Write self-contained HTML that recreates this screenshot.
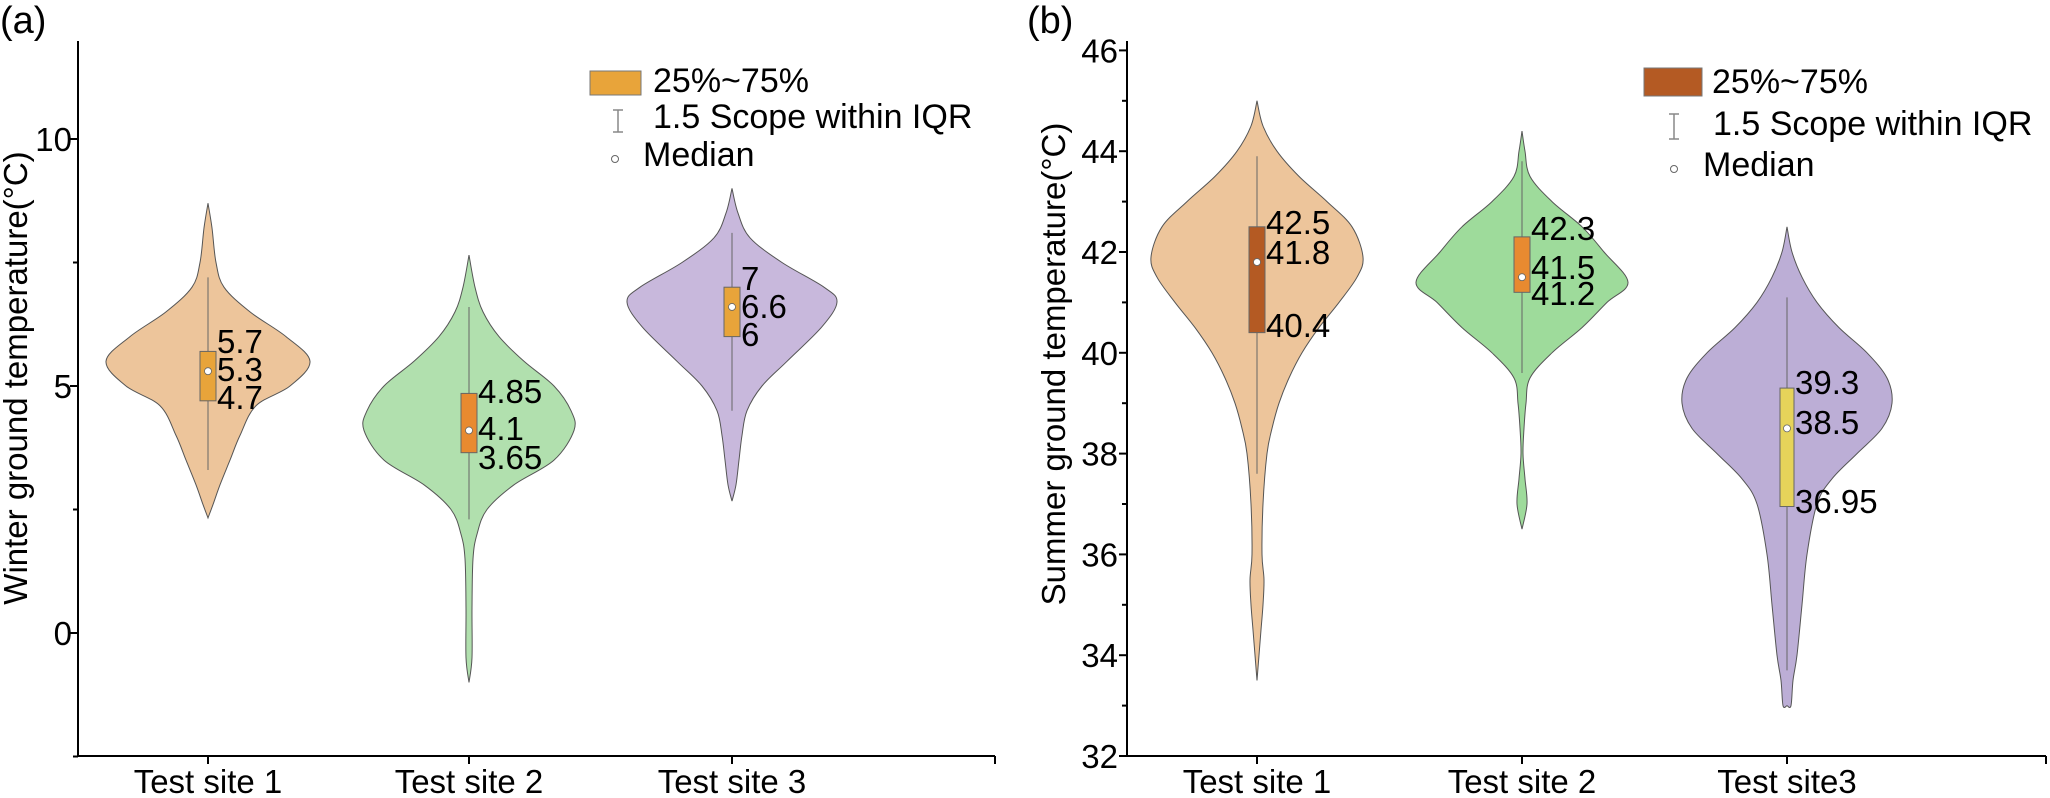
<!DOCTYPE html>
<html><head><meta charset="utf-8"><style>
html,body{margin:0;padding:0;background:#fff;}
svg{display:block;font-family:"Liberation Sans",Arial,sans-serif;}
</style></head><body>
<svg id="s" width="2050" height="798" viewBox="0 0 2050 798" xmlns="http://www.w3.org/2000/svg">
<rect width="2050" height="798" fill="#fff"/>
<g id="g"></g>
<text x="0" y="33" font-size="38">(a)</text>
<text x="1027" y="33" font-size="38">(b)</text>
<g stroke="#000" stroke-width="2" fill="none">
<path d="M78,41 V756 H995"/>
<path d="M1127,41 V756 H2046"/>
</g>
<g font-size="33" text-anchor="end">
<text x="72" y="151">10</text>
<text x="72" y="398">5</text>
<text x="72" y="645">0</text>
</g>
<g font-size="33" text-anchor="middle">
<text x="208" y="793">Test site 1</text>
<text x="469" y="793">Test site 2</text>
<text x="732" y="793">Test site 3</text>
<text x="1257" y="793">Test site 1</text>
<text x="1522" y="793">Test site 2</text>
<text x="1787" y="793">Test site3</text>
</g>
<text transform="translate(27,378) rotate(-90)" font-size="33" text-anchor="middle">Winter ground temperature(°C)</text>
<text transform="translate(1065,364) rotate(-90)" font-size="33" text-anchor="middle">Summer ground temperature(°C)</text>
<!-- legend a -->
<rect x="590" y="71" width="51" height="24" fill="#e8a43a" stroke="#777" stroke-width="1"/>
<text x="653" y="92" font-size="34">25%~75%</text>
<path d="M618,110 V132 M613,110 H623 M613,132 H623" stroke="#888" stroke-width="1.5" fill="none"/>
<text x="653" y="128" font-size="34">1.5 Scope within IQR</text>
<circle cx="615" cy="159" r="3.5" fill="#fff" stroke="#666" stroke-width="1"/>
<text x="643" y="166" font-size="34">Median</text>
<!-- legend b -->
<rect x="1644" y="68" width="58" height="28" fill="#b45a23" stroke="#777" stroke-width="1"/>
<text x="1712" y="93" font-size="34">25%~75%</text>
<path d="M1674,114 V139 M1669,114 H1679 M1669,139 H1679" stroke="#888" stroke-width="1.5" fill="none"/>
<text x="1713" y="135" font-size="34">1.5 Scope within IQR</text>
<circle cx="1674" cy="169" r="3.5" fill="#fff" stroke="#666" stroke-width="1"/>
<text x="1703" y="176" font-size="34">Median</text>
</svg>
<script>
var NS="http://www.w3.org/2000/svg",G=document.getElementById('g');
function el(t,a,txt){var e=document.createElementNS(NS,t);for(var k in a)e.setAttribute(k,a[k]);if(txt!==undefined)e.textContent=txt;G.appendChild(e);return e;}
var ya=function(v){return 633-v*49.4;};
var yb=function(v){return 756-(v-32)*50.4;};
[10,5,0].forEach(function(v){el('path',{d:'M70,'+ya(v)+'H78',stroke:'#000','stroke-width':2});});
[7.5,2.5,-2.5].forEach(function(v){el('path',{d:'M73,'+ya(v)+'H78',stroke:'#000','stroke-width':2});});
for(var v=32;v<=46;v++){var maj=v%2==0;el('path',{d:'M'+(maj?1119:1122)+','+yb(v)+'H1127',stroke:'#000','stroke-width':2});
 if(maj)el('text',{x:1118,y:yb(v)+12,'font-size':33,'text-anchor':'end'},String(v));}
[208,469,732,995].forEach(function(x){el('path',{d:'M'+x+',756V764',stroke:'#000','stroke-width':2});});
[1257,1522,1787,2046].forEach(function(x){el('path',{d:'M'+x+',756V764',stroke:'#000','stroke-width':2});});
function smooth(pts){var d='M'+pts[0][0]+','+pts[0][1];
 for(var i=0;i<pts.length-1;i++){var p0=pts[Math.max(0,i-1)],p1=pts[i],p2=pts[i+1],p3=pts[Math.min(pts.length-1,i+2)];
 d+=' C'+(p1[0]+(p2[0]-p0[0])/6)+','+(p1[1]+(p2[1]-p0[1])/6)+' '+(p2[0]-(p3[0]-p1[0])/6)+','+(p2[1]-(p3[1]-p1[1])/6)+' '+p2[0]+','+p2[1];}
 return d;}
function violin(cx,Y,prof,fill,wl,wh,bl,bh,med,bfill,bw,labs){
 var R=prof.map(function(p){return [cx+p[1],Y(p[0])];});
 var L=prof.slice().reverse().map(function(p){return [cx-p[1],Y(p[0])];});
 var d=smooth(R)+' L'+L[0][0]+','+L[0][1]+' '+smooth(L).slice(1)+'Z';
 el('path',{d:d,fill:fill,stroke:'#555','stroke-width':1});
 el('path',{d:'M'+cx+','+Y(wh)+'V'+Y(wl),stroke:'#666','stroke-width':1});
 el('rect',{x:cx-bw/2,y:Y(bh),width:bw,height:Y(bl)-Y(bh),fill:bfill,stroke:'#666','stroke-width':1});
 el('circle',{cx:cx,cy:Y(med),r:3.5,fill:'#fff',stroke:'#666','stroke-width':0.8});
 labs.forEach(function(l){el('text',{x:cx+bw/2+1,y:l[1],'font-size':33},l[0]);});
}
violin(208,ya,[[8.7,0],[8.2,4],[7.5,8],[7,16],[6.5,42],[6,78],[5.5,102],[5,82],[4.6,48],[4,32],[3.5,22],[3,12],[2.6,5],[2.33,0]],'#edc59b',3.3,7.2,4.7,5.7,5.3,'#e8a43a',16,[['5.7',353],['5.3',381],['4.7',409]]);
violin(469,ya,[[7.65,0],[7,6],[6.5,14],[6,30],[5.5,55],[5,85],[4.5,102],[4.1,105],[3.5,85],[3,45],[2.5,18],[2,8],[1.5,4],[0.5,3],[-0.5,3],[-1.0,0]],'#b1e0ae',2.3,6.6,3.65,4.85,4.1,'#e88a30',16,[['4.85',403],['4.1',440],['3.65',469]]);
violin(732,ya,[[9.0,0],[8.5,6],[8,18],[7.5,50],[7,92],[6.7,105],[6.2,90],[5.5,55],[5,30],[4.5,15],[4,10],[3.5,7],[3,4],[2.67,0]],'#c8b8dc',4.5,8.1,6,7,6.6,'#e8a43a',16,[['7',290],['6.6',318],['6',346]]);
violin(1257,yb,[[45,0],[44.5,6],[44,20],[43.5,42],[43,70],[42.5,95],[41.9,106],[41.5,100],[41,82],[40.5,62],[40,45],[39.5,32],[39,22],[38.5,15],[38,10],[37,6],[36,5],[35.5,7],[35,6],[34.5,4],[34,2],[33.5,0]],'#edc59b',37.6,43.9,40.4,42.5,41.8,'#b45a23',16,[['42.5',234],['41.8',264],['40.4',337]]);
violin(1522,yb,[[44.4,0],[44,3],[43.5,8],[43,30],[42.5,60],[42,82],[41.4,106],[41,85],[40.5,60],[40,30],[39.5,8],[39,4],[38.5,2],[38,1],[37.5,3],[37,5],[36.5,0]],'#9edb9b',39.6,43.8,41.2,42.3,41.5,'#e88a30',16,[['42.3',240],['41.5',279],['41.2',305]]);
violin(1787,yb,[[42.5,0],[42,5],[41.5,15],[41,30],[40.5,52],[40,80],[39.5,100],[39,105],[38.5,95],[38,70],[37.5,45],[37,30],[36,20],[35,15],[34,10],[33.5,6],[33.0,4],[33.0,0]],'#bcaed6',33.7,41.1,36.95,39.3,38.5,'#e6d35a',14,[['39.3',394],['38.5',434],['36.95',513]]);
</script>
</body></html>
